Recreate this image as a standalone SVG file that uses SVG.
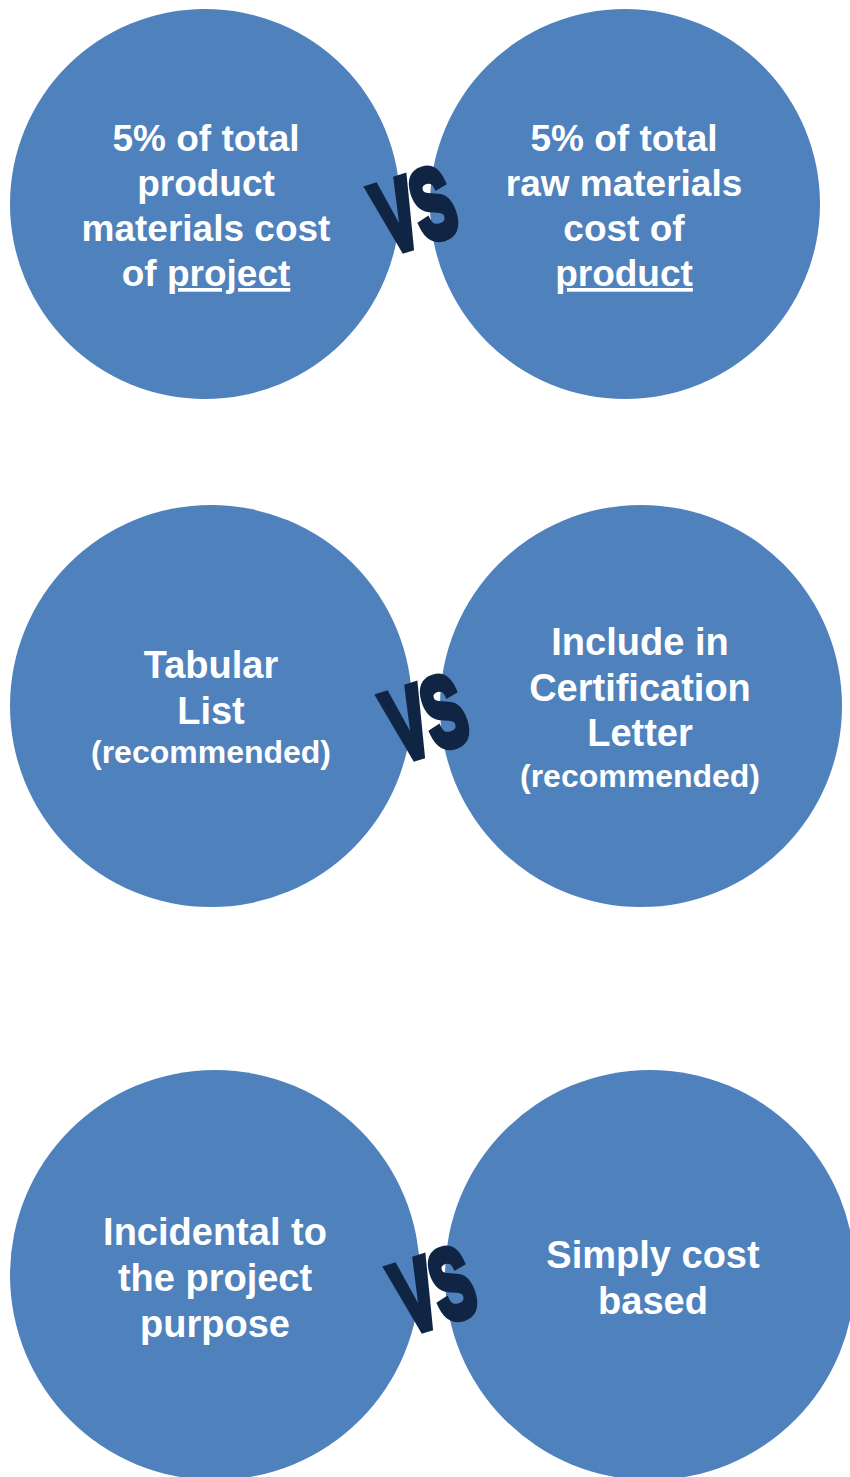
<svg xmlns="http://www.w3.org/2000/svg" width="850" height="1477" viewBox="0 0 850 1477">
<style>
.c{fill:#4f81bd}
.t{fill:#fff;font-family:"Liberation Sans",Arial,sans-serif;font-weight:bold;text-anchor:middle}
.a{font-size:37px}
.b{font-size:38px}
.s{font-size:32px}
.vs{fill:#0f2543;stroke:#0f2543;stroke-width:5;stroke-linejoin:miter;font-family:"Liberation Sans",Arial,sans-serif;font-weight:bold;font-size:62px;text-anchor:middle;letter-spacing:-1px}
</style>
<rect width="850" height="1477" fill="#fff"/>
<g id="row1-left"><circle class="c" cx="205" cy="204" r="195"/>
<text class="t a" x="206"><tspan x="206" y="151">5% of total</tspan><tspan x="206" y="196">product</tspan><tspan x="206" y="241">materials cost</tspan><tspan x="206" y="286">of <tspan text-decoration="underline">project</tspan></tspan></text></g>
<g id="row1-right"><circle class="c" cx="625" cy="204" r="195"/>
<text class="t a"><tspan x="624" y="151">5% of total</tspan><tspan x="624" y="196">raw materials</tspan><tspan x="624" y="241">cost of</tspan><tspan x="624" y="286" text-decoration="underline">product</tspan></text></g>
<g id="row2-left"><circle class="c" cx="211" cy="706" r="201"/>
<text class="t b"><tspan x="211" y="678">Tabular</tspan><tspan x="211" y="724">List</tspan></text>
<text class="t s" x="211" y="763">(recommended)</text></g>
<g id="row2-right"><circle class="c" cx="641" cy="706" r="201"/>
<text class="t b"><tspan x="640" y="655">Include in</tspan><tspan x="640" y="701">Certification</tspan><tspan x="640" y="746">Letter</tspan></text>
<text class="t s" x="640" y="787">(recommended)</text></g>
<g id="row3-left"><circle class="c" cx="215" cy="1275" r="205"/>
<text class="t b"><tspan x="215" y="1245">Incidental to</tspan><tspan x="215" y="1291">the project</tspan><tspan x="215" y="1337">purpose</tspan></text></g>
<g id="row3-right"><circle class="c" cx="650" cy="1275" r="205"/>
<text class="t b"><tspan x="653" y="1268">Simply cost</tspan><tspan x="653" y="1314">based</tspan></text></g>
<g id="connectors">
<text class="vs" transform="translate(414,209) rotate(-18) scale(0.95,1.6)" y="22">VS</text>
<text class="vs" transform="translate(425,717) rotate(-18) scale(0.95,1.6)" y="22">VS</text>
<text class="vs" transform="translate(433,1289) rotate(-18) scale(0.95,1.6)" y="22">VS</text>
</g>
</svg>
